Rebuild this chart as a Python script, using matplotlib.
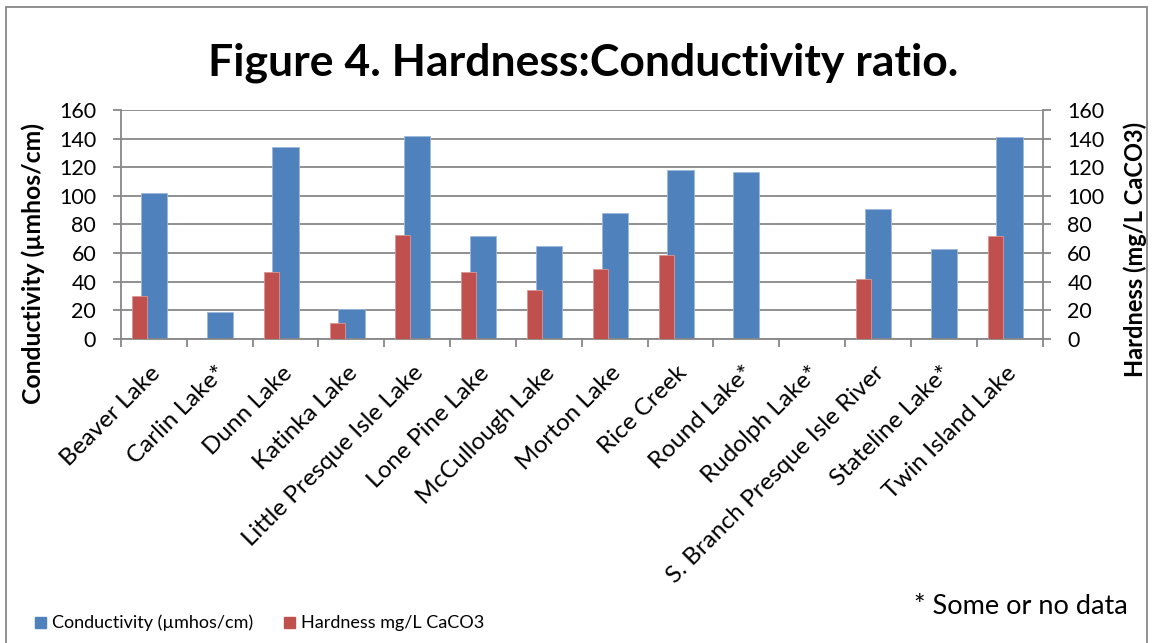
import numpy as np
import matplotlib.pyplot as plt
from matplotlib.patches import Rectangle
from matplotlib.transforms import ScaledTranslation

plt.rcParams['font.family'] = ['Lato', 'DejaVu Sans']

# ---------------- data ----------------
lakes = ["Beaver Lake", "Carlin Lake*", "Dunn Lake", "Katinka Lake",
         "Little Presque Isle Lake", "Lone Pine Lake", "McCullough Lake",
         "Morton Lake", "Rice Creek", "Round Lake*", "Rudolph Lake*",
         "S. Branch Presque Isle River", "Stateline Lake*", "Twin Island Lake"]
conductivity = [102, 19, 134, 21, 142, 72, 65, 88, 118, 117, np.nan, 91, 63, 141]
hardness = [30, np.nan, 47, 11, 72.5, 47, 34.5, 49, 59, np.nan, np.nan, 42, np.nan, 72]
yticks = [0, 20, 40, 60, 80, 100, 120, 140, 160]

blue = "#4F81BD"
red = "#C0504D"
grid_c = "#878787"

W, H = 1152, 643
fig = plt.figure(figsize=(W / 100, H / 100), dpi=100)
ax = fig.add_axes([0.105, 0.4728, 0.8, 0.3562])
ax2 = ax.twinx()

x = np.arange(len(lakes))
ax.bar(x, conductivity, width=0.40, color=blue, edgecolor="#9DB8DA", linewidth=0.6, zorder=2)
ax2.bar(x - 0.218, hardness, width=0.228, color=red, edgecolor="#D99694", linewidth=0.6, zorder=2)

for a in (ax, ax2):
    a.set_ylim(0, 160)
    a.set_yticks(yticks)
    a.set_xlim(-0.5, len(lakes) - 0.5)
    for s in a.spines.values():
        s.set_visible(False)

ax.set_axisbelow(True)
ax.yaxis.grid(True, color=grid_c, linewidth=1.3)
for side in ('left', 'bottom'):
    ax.spines[side].set_visible(True)
    ax.spines[side].set_color(grid_c)
    ax.spines[side].set_linewidth(1.3)
ax2.spines['right'].set_visible(True)
ax2.spines['right'].set_color(grid_c)
ax2.spines['right'].set_linewidth(1.3)

ax.tick_params(axis='y', length=5.8, width=1.3, color=grid_c, labelsize=15.5, pad=12)
ax2.tick_params(axis='y', length=5.8, width=1.3, color=grid_c, labelsize=15.5, pad=12)

# category boundary ticks
ax.set_xticks(x)
ax.set_xticks(np.arange(len(lakes) + 1) - 0.5, minor=True)
ax.tick_params(axis='x', which='major', length=0, pad=22)
ax.tick_params(axis='x', which='minor', length=5.8, width=1.3, color=grid_c)
ax.set_xticklabels(lakes, rotation=45, ha='right', va='center', rotation_mode='anchor', fontsize=17.5)
shift = ScaledTranslation(3 / 100, 0, fig.dpi_scale_trans)
for lbl in ax.get_xticklabels():
    lbl.set_transform(lbl.get_transform() + shift)

# axis titles
fig.text(33 / W, 1 - 263 / H, "Conductivity (\u00b5mhos/cm)", rotation=90, ha='center', va='center',
         fontsize=17.8, fontweight='bold')
fig.text(1135 / W, 1 - 249 / H, "Hardness (mg/L CaCO3)", rotation=90, ha='center', va='center',
         fontsize=17, fontweight='bold')

fig.text(0.506, 0.903, "Figure 4. Hardness:Conductivity ratio.", ha='center', va='center',
         fontsize=32, fontweight='bold')

# legend-like entries at bottom
fig.patches.append(Rectangle((35 / W, 1 - 628 / H), 11 / W, 11 / H,
                             transform=fig.transFigure, color=blue))
fig.text(52 / W, 1 - 623 / H, "Conductivity (\u00b5mhos/cm)", fontsize=13, va='center')
fig.patches.append(Rectangle((284 / W, 1 - 628 / H), 11 / W, 11 / H,
                             transform=fig.transFigure, color=red))
fig.text(301 / W, 1 - 623 / H, "Hardness mg/L CaCO3", fontsize=13, va='center')

fig.text(1128 / W, 1 - 606 / H, "* Some or no data", fontsize=19.5, ha='right', va='center')

# chart border
fig.patches.append(Rectangle((6 / W, -0.05), 1141 / W, 1.05 - 7 / H,
                             transform=fig.transFigure, fill=False, edgecolor=grid_c, linewidth=1.3))

fig.savefig("out.png", dpi=100)
